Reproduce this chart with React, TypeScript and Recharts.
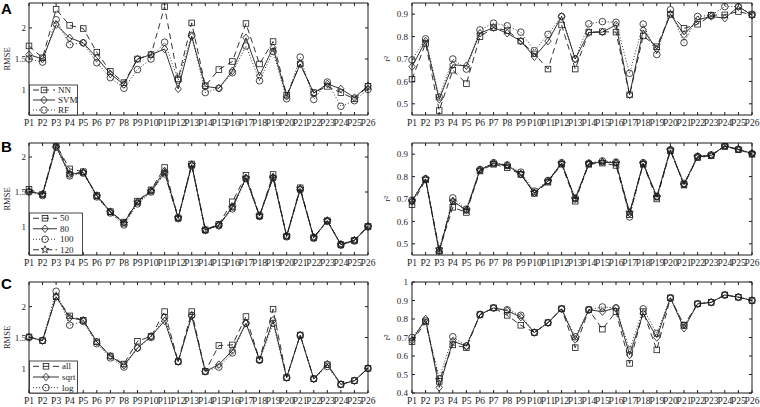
import React from "react";
import { LineChart, Line, XAxis, YAxis } from "recharts";

const categories = [
  "P1", "P2", "P3", "P4", "P5", "P6", "P7", "P8", "P9", "P10", "P11", "P12", "P13",
  "P14", "P15", "P16", "P17", "P18", "P19", "P20", "P21", "P22", "P23", "P24", "P25", "P26",
];

// A: method comparison
const rmseNN = [1.71, 1.52, 2.3, 2.04, 1.99, 1.61, 1.3, 1.12, 1.5, 1.57, 2.34, 1.18, 2.08, 1.07, 1.33, 1.46, 2.07, 1.42, 1.78, 0.92, 1.42, 0.96, 1.06, 0.96, 0.86, 1.06];
const rmseSVM = [1.57, 1.5, 2.05, 1.84, 1.76, 1.52, 1.26, 1.09, 1.5, 1.57, 1.66, 1.02, 1.86, 1.06, 1.03, 1.31, 1.84, 1.23, 1.68, 0.9, 1.42, 0.95, 1.1, 1.02, 0.88, 1.07];
const rmseRF = [1.5, 1.45, 2.13, 1.73, 1.76, 1.44, 1.2, 1.03, 1.33, 1.5, 1.77, 1.16, 1.88, 0.96, 1.03, 1.28, 1.71, 1.15, 1.62, 0.86, 1.53, 0.85, 1.13, 0.74, 0.83, 1.01];
const r2NN = [0.61, 0.77, 0.47, 0.65, 0.59, 0.8, 0.84, 0.827, 0.78, 0.723, 0.655, 0.852, 0.655, 0.82, 0.822, 0.82, 0.54, 0.803, 0.755, 0.9, 0.837, 0.855, 0.895, 0.897, 0.912, 0.897];
const r2SVM = [0.666, 0.78, 0.52, 0.674, 0.67, 0.815, 0.84, 0.815, 0.78, 0.71, 0.78, 0.89, 0.7, 0.818, 0.82, 0.852, 0.54, 0.83, 0.744, 0.9, 0.808, 0.875, 0.89, 0.882, 0.934, 0.895];
const r2RF = [0.696, 0.79, 0.53, 0.7, 0.655, 0.83, 0.86, 0.848, 0.82, 0.737, 0.81, 0.89, 0.7, 0.857, 0.867, 0.864, 0.636, 0.856, 0.72, 0.92, 0.773, 0.89, 0.895, 0.934, 0.934, 0.9];

// B: number of trees
const rmse50 = [1.54, 1.47, 2.17, 1.83, 1.79, 1.45, 1.22, 1.07, 1.37, 1.53, 1.85, 1.13, 1.9, 0.96, 1.04, 1.36, 1.74, 1.16, 1.75, 0.87, 1.56, 0.85, 1.09, 0.75, 0.81, 1.01];
const rmse80 = [1.51, 1.47, 2.15, 1.75, 1.78, 1.45, 1.22, 1.06, 1.36, 1.52, 1.8, 1.13, 1.89, 0.96, 1.02, 1.29, 1.7, 1.16, 1.71, 0.87, 1.54, 0.85, 1.09, 0.75, 0.81, 1.01];
const rmse100 = [1.5, 1.45, 2.14, 1.73, 1.77, 1.43, 1.2, 1.03, 1.33, 1.5, 1.76, 1.12, 1.87, 0.95, 1.02, 1.26, 1.69, 1.15, 1.7, 0.86, 1.53, 0.84, 1.08, 0.74, 0.8, 1.0];
const rmse120 = [1.51, 1.46, 2.2, 1.76, 1.78, 1.44, 1.21, 1.05, 1.35, 1.51, 1.77, 1.13, 1.89, 0.96, 1.03, 1.28, 1.7, 1.16, 1.71, 0.87, 1.55, 0.85, 1.09, 0.75, 0.81, 1.01];
const r2t50 = [0.675, 0.785, 0.47, 0.663, 0.64, 0.825, 0.855, 0.84, 0.81, 0.725, 0.775, 0.855, 0.69, 0.855, 0.86, 0.85, 0.63, 0.855, 0.7, 0.915, 0.765, 0.885, 0.893, 0.935, 0.92, 0.9];
const r2t80 = [0.69, 0.79, 0.465, 0.69, 0.65, 0.83, 0.86, 0.85, 0.81, 0.727, 0.78, 0.86, 0.7, 0.858, 0.865, 0.862, 0.637, 0.86, 0.71, 0.92, 0.765, 0.89, 0.895, 0.937, 0.922, 0.903];
const r2t100 = [0.695, 0.79, 0.46, 0.705, 0.655, 0.832, 0.862, 0.852, 0.82, 0.735, 0.783, 0.862, 0.705, 0.86, 0.87, 0.865, 0.62, 0.862, 0.712, 0.92, 0.77, 0.89, 0.897, 0.937, 0.922, 0.903];
const r2t120 = [0.69, 0.79, 0.475, 0.69, 0.65, 0.828, 0.858, 0.848, 0.812, 0.728, 0.778, 0.858, 0.7, 0.857, 0.866, 0.86, 0.64, 0.858, 0.708, 0.918, 0.762, 0.888, 0.895, 0.936, 0.921, 0.902];

// C: feature subset size
const rmseAll = [1.51, 1.45, 2.16, 1.85, 1.78, 1.43, 1.2, 1.07, 1.44, 1.52, 1.92, 1.11, 1.92, 0.95, 1.37, 1.38, 1.84, 1.14, 1.96, 0.85, 1.54, 0.83, 1.06, 0.74, 0.8, 1.0];
const rmseSqrt = [1.51, 1.45, 2.16, 1.82, 1.78, 1.43, 1.2, 1.05, 1.33, 1.52, 1.77, 1.11, 1.85, 0.95, 1.06, 1.29, 1.73, 1.14, 1.78, 0.85, 1.54, 0.83, 1.07, 0.74, 0.8, 1.0];
const rmseLog = [1.5, 1.45, 2.25, 1.7, 1.76, 1.4, 1.17, 1.02, 1.33, 1.5, 1.83, 1.11, 1.86, 0.95, 1.02, 1.25, 1.73, 1.13, 1.73, 0.85, 1.53, 0.83, 1.03, 0.74, 0.8, 1.0];
const r2All = [0.677, 0.784, 0.463, 0.66, 0.645, 0.824, 0.86, 0.82, 0.766, 0.727, 0.78, 0.855, 0.645, 0.85, 0.745, 0.84, 0.56, 0.84, 0.633, 0.914, 0.766, 0.882, 0.89, 0.93, 0.918, 0.9];
const r2Sqrt = [0.685, 0.8, 0.43, 0.68, 0.654, 0.824, 0.86, 0.845, 0.81, 0.727, 0.78, 0.855, 0.69, 0.85, 0.84, 0.86, 0.606, 0.83, 0.7, 0.914, 0.75, 0.882, 0.89, 0.93, 0.918, 0.9];
const r2Log = [0.7, 0.79, 0.477, 0.704, 0.654, 0.824, 0.86, 0.85, 0.82, 0.727, 0.78, 0.855, 0.704, 0.85, 0.865, 0.86, 0.633, 0.855, 0.722, 0.914, 0.766, 0.882, 0.89, 0.93, 0.918, 0.9];

const rmseTicks = [1, 1.5, 2];
const r2TicksAB = [0.5, 0.6, 0.7, 0.8, 0.9];
const r2TicksC = [0.4, 0.5, 0.6, 0.7, 0.8, 0.9, 1];

const INK = "#1c1c1c";
const SERIF = '"Liberation Serif", "Times New Roman", serif';
const SANS = '"Liberation Sans", Arial, sans-serif';

type Shape = "square" | "diamond" | "circle" | "star";
type Series = { key: string; name: string; values: number[]; shape: Shape; dash?: string };

const DASH = "6 4";
const DOT = "1 2";
const DASHDOT = "6 3 1.5 3";

function Marker({ shape, cx, cy }: { shape: Shape; cx: number; cy: number }) {
  const p = { fill: "none", stroke: INK, strokeWidth: 0.8 };
  if (shape === "square") return <rect x={cx - 2.8} y={cy - 2.8} width={5.6} height={5.6} {...p} />;
  if (shape === "diamond")
    return <polygon points={`${cx},${cy - 3.8} ${cx + 3.2},${cy} ${cx},${cy + 3.8} ${cx - 3.2},${cy}`} {...p} />;
  if (shape === "circle") return <circle cx={cx} cy={cy} r={3.3} {...p} />;
  const pts: string[] = [];
  for (let k = 0; k < 10; k++) {
    const r = k % 2 === 0 ? 4 : 1.7;
    const a = -Math.PI / 2 + (k * Math.PI) / 5;
    pts.push(`${cx + r * Math.cos(a)},${cy + r * Math.sin(a)}`);
  }
  return <polygon points={pts.join(" ")} {...p} />;
}

// left charts are wider than their plot so the last tick label is not clipped
const LEFT_COL = { x: 0, width: 388, axisW: 29, plotRight: 368, tickMargin: 6 };
const RIGHT_COL = { x: 372, width: 388, axisW: 40, plotRight: 752, tickMargin: 7 };
const ROWS = [
  { top: 3, bottom: 115 },
  { top: 143, bottom: 255 },
  { top: 282, bottom: 393 },
];

function Panel({
  col,
  row,
  series,
  domain,
  ticks,
  fmt,
}: {
  col: typeof LEFT_COL;
  row: { top: number; bottom: number };
  series: Series[];
  domain: [number, number];
  ticks: number[];
  fmt: (v: number) => string;
}) {
  const data = categories.map((cat, i) => {
    const d: Record<string, string | number> = { cat };
    series.forEach((s) => (d[s.key] = s.values[i]));
    return d;
  });
  const height = row.bottom - row.top + 5 + 16;
  const marginRight = col.x + col.width - col.plotRight - 1;

  return (
    <div style={{ position: "absolute", left: col.x, top: row.top - 5 }}>
      <LineChart width={col.width} height={height} data={data} margin={{ top: 4, right: marginRight, left: 0, bottom: 0 }}>
        <XAxis
          dataKey="cat"
          interval={0}
          height={16}
          tickSize={-3}
          tickMargin={7}
          axisLine={{ stroke: INK }}
          tickLine={{ stroke: INK }}
          tick={{ fontSize: 9.5, fill: INK, fontFamily: SERIF }}
        />
        <XAxis
          xAxisId="top"
          orientation="top"
          dataKey="cat"
          interval={0}
          height={1}
          tickSize={-3}
          axisLine={{ stroke: INK }}
          tickLine={{ stroke: INK }}
          tickFormatter={() => ""}
        />
        <YAxis
          type="number"
          domain={domain}
          ticks={ticks}
          interval={0}
          allowDataOverflow
          width={col.axisW}
          tickSize={-3}
          tickMargin={col.tickMargin}
          axisLine={{ stroke: INK }}
          tickLine={{ stroke: INK }}
          tick={{ fontSize: 9, fill: INK, fontFamily: SERIF }}
          tickFormatter={fmt}
        />
        <YAxis
          yAxisId="r"
          orientation="right"
          type="number"
          domain={domain}
          ticks={ticks}
          interval={0}
          allowDataOverflow
          width={1}
          tickSize={-3}
          axisLine={{ stroke: INK }}
          tickLine={{ stroke: INK }}
          tickFormatter={() => ""}
        />
        {series.map((s) => (
          <Line
            key={s.key}
            type="linear"
            dataKey={s.key}
            stroke={INK}
            strokeWidth={0.9}
            strokeDasharray={s.dash}
            dot={(p: any) => <Marker key={`${s.key}-${p.index}`} shape={s.shape} cx={p.cx} cy={p.cy} />}
            activeDot={false}
            isAnimationActive={false}
          />
        ))}
      </LineChart>
    </div>
  );
}

function LegendBox({ x, y, w, h, series, lineLen }: { x: number; y: number; w: number; h: number; series: Series[]; lineLen: number }) {
  const rowH = h / series.length;
  return (
    <g>
      <rect x={x + 0.5} y={y} width={w} height={h} fill="#fff" stroke={INK} strokeWidth={0.8} />
      {series.map((s, i) => {
        const cy = y + rowH * (i + 0.5);
        const x0 = x + 4;
        const x1 = x0 + lineLen;
        return (
          <g key={s.key}>
            <line x1={x0} x2={x1} y1={cy} y2={cy} stroke={INK} strokeWidth={0.9} strokeDasharray={s.dash} />
            <Marker shape={s.shape} cx={(x0 + x1) / 2} cy={cy} />
            <text x={x1 + 3} y={cy + 3} fontSize={9} fontFamily={SERIF} fill={INK}>
              {s.name}
            </text>
          </g>
        );
      })}
    </g>
  );
}

const fmtNum = (v: number) => String(v);

export default function App() {
  const methodRmse: Series[] = [
    { key: "nn", name: "NN", values: rmseNN, shape: "square", dash: DASH },
    { key: "svm", name: "SVM", values: rmseSVM, shape: "diamond" },
    { key: "rf", name: "RF", values: rmseRF, shape: "circle", dash: DOT },
  ];
  const methodR2: Series[] = [
    { key: "nn", name: "NN", values: r2NN, shape: "square", dash: DASH },
    { key: "svm", name: "SVM", values: r2SVM, shape: "diamond" },
    { key: "rf", name: "RF", values: r2RF, shape: "circle", dash: DOT },
  ];
  const treeRmse: Series[] = [
    { key: "t50", name: "50", values: rmse50, shape: "square", dash: DASH },
    { key: "t80", name: "80", values: rmse80, shape: "diamond" },
    { key: "t100", name: "100", values: rmse100, shape: "circle", dash: DOT },
    { key: "t120", name: "120", values: rmse120, shape: "star", dash: DASHDOT },
  ];
  const treeR2: Series[] = [
    { key: "t50", name: "50", values: r2t50, shape: "square", dash: DASH },
    { key: "t80", name: "80", values: r2t80, shape: "diamond" },
    { key: "t100", name: "100", values: r2t100, shape: "circle", dash: DOT },
    { key: "t120", name: "120", values: r2t120, shape: "star", dash: DASHDOT },
  ];
  const featRmse: Series[] = [
    { key: "all", name: "all", values: rmseAll, shape: "square", dash: DASH },
    { key: "sqrt", name: "sqrt", values: rmseSqrt, shape: "diamond" },
    { key: "log", name: "log", values: rmseLog, shape: "circle", dash: DOT },
  ];
  const featR2: Series[] = [
    { key: "all", name: "all", values: r2All, shape: "square", dash: DASH },
    { key: "sqrt", name: "sqrt", values: r2Sqrt, shape: "diamond" },
    { key: "log", name: "log", values: r2Log, shape: "circle", dash: DOT },
  ];

  const mid = (r: { top: number; bottom: number }) => (r.top + r.bottom) / 2;

  return (
    <div style={{ position: "absolute", left: 0, top: 0, width: 760, height: 407, background: "#fff", overflow: "hidden" }}>
      <Panel col={RIGHT_COL} row={ROWS[0]} series={methodR2} domain={[0.45, 0.95]} ticks={r2TicksAB} fmt={(v) => v.toFixed(1)} />
      <Panel col={RIGHT_COL} row={ROWS[1]} series={treeR2} domain={[0.45, 0.95]} ticks={r2TicksAB} fmt={(v) => v.toFixed(1)} />
      <Panel col={RIGHT_COL} row={ROWS[2]} series={featR2} domain={[0.4, 1]} ticks={r2TicksC} fmt={(v) => (v === 1 ? "1" : v.toFixed(1))} />
      <Panel col={LEFT_COL} row={ROWS[0]} series={methodRmse} domain={[0.6, 2.4]} ticks={rmseTicks} fmt={fmtNum} />
      <Panel col={LEFT_COL} row={ROWS[1]} series={treeRmse} domain={[0.6, 2.2]} ticks={rmseTicks} fmt={fmtNum} />
      <Panel col={LEFT_COL} row={ROWS[2]} series={featRmse} domain={[0.6, 2.4]} ticks={rmseTicks} fmt={fmtNum} />

      <svg width={760} height={407} style={{ position: "absolute", left: 0, top: 0, pointerEvents: "none" }}>
        <text x={1} y={14} fontSize={15} fontWeight="bold" fontFamily={SANS} fill="#000">A</text>
        <text x={1} y={152} fontSize={15} fontWeight="bold" fontFamily={SANS} fill="#000">B</text>
        <text x={1} y={289} fontSize={15} fontWeight="bold" fontFamily={SANS} fill="#000">C</text>

        {ROWS.map((r, i) => (
          <g key={i}>
            <text transform={`translate(10, ${mid(r)}) rotate(-90)`} textAnchor="middle" fontSize={8.5} fontFamily={SERIF} fill={INK}>
              RMSE
            </text>
            <text transform={`translate(390, ${mid(r)}) rotate(-90)`} textAnchor="middle" fontSize={9} fontFamily={SERIF} fill={INK}>
              r²
            </text>
          </g>
        ))}

        <LegendBox x={29} y={85} w={48} h={30} series={methodRmse} lineLen={22} />
        <LegendBox x={29} y={213} w={53} h={42} series={treeRmse} lineLen={24} />
        <LegendBox x={29} y={361} w={48} h={32} series={featRmse} lineLen={26} />
      </svg>
    </div>
  );
}
